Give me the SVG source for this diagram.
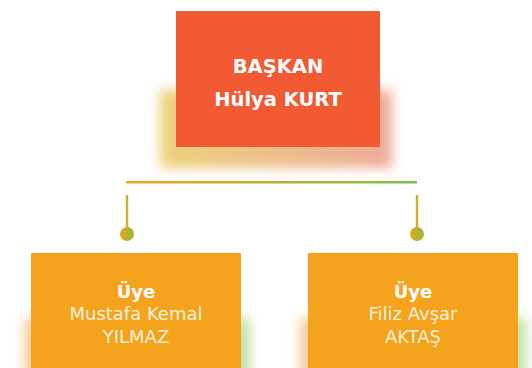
<svg xmlns="http://www.w3.org/2000/svg" width="532" height="368" viewBox="0 0 532 368">
<defs>
<style>
.t{font-family:"DejaVu Sans","Liberation Sans",sans-serif;fill:#fff;text-anchor:middle}
.b{font-weight:700}
.r{font-weight:400;fill:#fdf1dc}
</style>
<linearGradient id="ln" gradientUnits="userSpaceOnUse" x1="126" y1="0" x2="417" y2="0"><stop offset="0" stop-color="#f5a11e"/><stop offset="1" stop-color="#7cc243"/></linearGradient>
<linearGradient id="dot" x1="0" y1="0" x2="1" y2="0"><stop offset="0" stop-color="#eba21f"/><stop offset="1" stop-color="#93bb3c"/></linearGradient>
<linearGradient id="sh1" x1="0" y1="0" x2="1" y2="0"><stop offset="0" stop-color="#ecd27a"/><stop offset="1" stop-color="#eeaa98"/></linearGradient>
<linearGradient id="sh2" x1="0" y1="0" x2="1" y2="0"><stop offset="0" stop-color="#f6cc9a"/><stop offset="1" stop-color="#bfe3a6"/></linearGradient>
<filter id="blur" x="-20%" y="-40%" width="140%" height="180%"><feGaussianBlur stdDeviation="6"/></filter>
</defs>
<rect width="532" height="368" fill="#fff"/>
<g id="connectors">
<rect x="126" y="181" width="291" height="2.5" fill="url(#ln)"/>
<line x1="127" y1="195" x2="127" y2="234" stroke="#cdb12c" stroke-width="2.5"/>
<line x1="417" y1="195" x2="417" y2="234" stroke="#cdb12c" stroke-width="2.5"/>
<circle cx="127" cy="234" r="7" fill="url(#dot)"/>
<circle cx="417" cy="234" r="7" fill="url(#dot)"/>
</g>
<g id="baskan">
<rect x="160" y="90" width="232" height="78" fill="url(#sh1)" filter="url(#blur)"/>
<rect x="176" y="11" width="204" height="136" fill="#f15a32"/>
<text class="t b" x="278" y="73" font-size="19.5">BAŞKAN</text>
<text class="t b" x="278" y="106" font-size="19.5">Hülya KURT</text>
</g>
<g id="uye1">
<rect x="24" y="318" width="226" height="60" fill="url(#sh2)" filter="url(#blur)"/>
<rect x="31" y="253" width="210" height="120" fill="#f5a31c"/>
<text class="t b" x="136" y="298" font-size="18">Üye</text>
<text class="t r" x="136" y="320" font-size="18">Mustafa Kemal</text>
<text class="t r" x="136" y="343" font-size="18">YILMAZ</text>
</g>
<g id="uye2">
<rect x="300" y="318" width="226" height="60" fill="url(#sh2)" filter="url(#blur)"/>
<rect x="308" y="253" width="210" height="120" fill="#f5a31c"/>
<text class="t b" x="413" y="298" font-size="18">Üye</text>
<text class="t r" x="413" y="320" font-size="18">Filiz Avşar</text>
<text class="t r" x="413" y="343" font-size="18">AKTAŞ</text>
</g>
</svg>
